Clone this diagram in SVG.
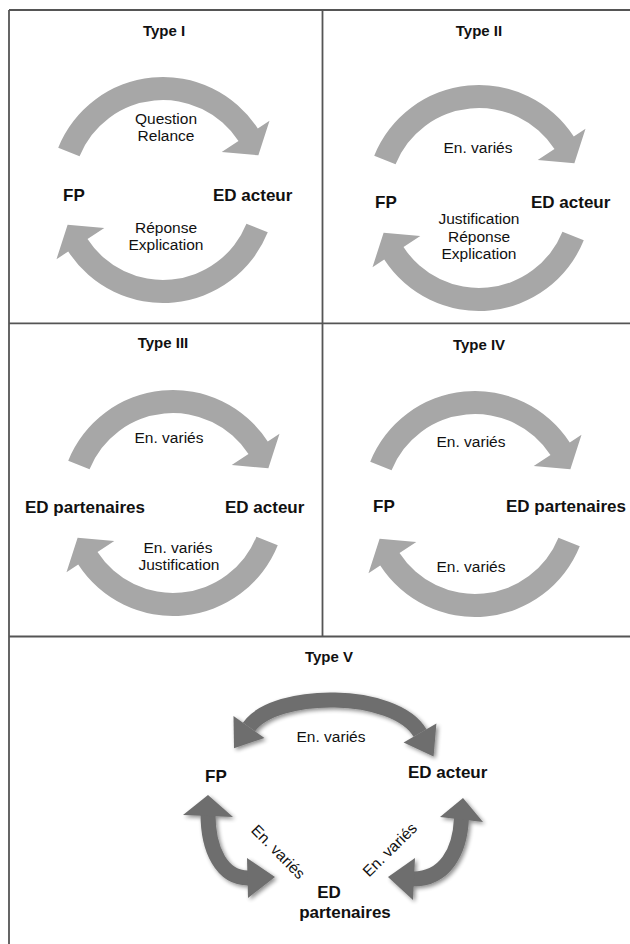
<svg xmlns="http://www.w3.org/2000/svg" width="630" height="944" viewBox="0 0 630 944">
  <defs>
    <style>
      text { font-family: "Liberation Sans", Arial, sans-serif; fill: #111; }
      .title { font-size: 15px; font-weight: bold; text-anchor: middle; }
      .node { font-size: 17px; font-weight: bold; }
      .lbl { font-size: 15.5px; text-anchor: middle; }
      .grid { stroke: #555; stroke-width: 1.8; fill: none; }
      .carrow { fill: #a7a7a7; }
      .dshaft { fill: none; stroke: #6e6e6e; stroke-width: 15; }
      .dhead { fill: #6e6e6e; }
    </style>
    <path id="carc" d="M-104.77,-42.33 A113,113 0 0 1 94.77,-61.54 L106.51,-69.16 L95.38,-34.71 L58.71,-38.12 L75.48,-49.01 A90,90 0 0 0 -83.45,-33.71 Z"/>
    <filter id="shadow" x="-20%" y="-20%" width="140%" height="140%">
      <feGaussianBlur in="SourceAlpha" stdDeviation="2.2"/>
      <feOffset dx="1.5" dy="2" result="b"/>
      <feComponentTransfer><feFuncA type="linear" slope="0.45"/></feComponentTransfer>
      <feMerge><feMergeNode/><feMergeNode in="SourceGraphic"/></feMerge>
    </filter>
  </defs>
  <rect width="630" height="944" fill="#fff"/>

  <g id="grid">
    <line class="grid" x1="9" y1="10" x2="632" y2="10"/>
    <line class="grid" x1="9" y1="10" x2="9" y2="946"/>
    <line class="grid" x1="322.5" y1="10" x2="322.5" y2="636.5"/>
    <line class="grid" x1="9" y1="323.3" x2="632" y2="323.3"/>
    <line class="grid" x1="9" y1="636.5" x2="632" y2="636.5"/>
  </g>

  <g id="connectors">
    <use href="#carc" class="carrow" transform="translate(163,190)"/>
    <use href="#carc" class="carrow" transform="translate(163,190) rotate(180)"/>
    <use href="#carc" class="carrow" transform="translate(479,198)"/>
    <use href="#carc" class="carrow" transform="translate(479,198) rotate(180)"/>
    <use href="#carc" class="carrow" transform="translate(173,503)"/>
    <use href="#carc" class="carrow" transform="translate(173,503) rotate(180)"/>
    <use href="#carc" class="carrow" transform="translate(475,504)"/>
    <use href="#carc" class="carrow" transform="translate(475,504) rotate(180)"/>
    <g filter="url(#shadow)">
      <path class="dshaft" d="M249,727 C275,690 395,690 420,733"/>
      <polygon class="dhead" points="264.5,737.9 234,748.3 233.5,716.1"/>
      <polygon class="dhead" points="436.4,723.4 433.6,756.4 403.6,742.6"/>
      <path class="dshaft" d="M208,814 C208,850 222,878 248,878"/>
      <polygon class="dhead" points="183,815 208,795 233,817"/>
      <polygon class="dhead" points="247,858 275,877 248,898"/>
      <path class="dshaft" d="M461.5,818 C460,852 445,879 413,879"/>
      <polygon class="dhead" points="440,817 463,798 483,822"/>
      <polygon class="dhead" points="415,858 388,877 413,900"/>
    </g>
  </g>

  <g id="type1">
    <text class="title" x="164" y="36">Type I</text>
    <text class="lbl" x="166" y="124">Question</text>
    <text class="lbl" x="166" y="141">Relance</text>
    <text class="node" x="63" y="201">FP</text>
    <text class="node" x="213" y="201">ED acteur</text>
    <text class="lbl" x="166" y="233">Réponse</text>
    <text class="lbl" x="166" y="250">Explication</text>
  </g>

  <g id="type2">
    <text class="title" x="479" y="36">Type II</text>
    <text class="lbl" x="478" y="153">En. variés</text>
    <text class="node" x="375" y="208">FP</text>
    <text class="node" x="531" y="208">ED acteur</text>
    <text class="lbl" x="479" y="224">Justification</text>
    <text class="lbl" x="479" y="242">Réponse</text>
    <text class="lbl" x="479" y="259">Explication</text>
  </g>

  <g id="type3">
    <text class="title" x="163" y="348">Type III</text>
    <text class="lbl" x="169" y="443">En. variés</text>
    <text class="node" x="25" y="513">ED partenaires</text>
    <text class="node" x="225" y="513">ED acteur</text>
    <text class="lbl" x="178" y="553">En. variés</text>
    <text class="lbl" x="179" y="570">Justification</text>
  </g>

  <g id="type4">
    <text class="title" x="479" y="350">Type IV</text>
    <text class="lbl" x="471" y="447">En. variés</text>
    <text class="node" x="373" y="512">FP</text>
    <text class="node" x="506" y="512">ED partenaires</text>
    <text class="lbl" x="471" y="572">En. variés</text>
  </g>

  <g id="type5">
    <text class="title" x="329" y="662">Type V</text>
    <text class="lbl" x="331" y="742">En. variés</text>
    <text class="node" x="205" y="782">FP</text>
    <text class="node" x="408" y="778">ED acteur</text>
    <text class="node" x="329" y="898" text-anchor="middle">ED</text>
    <text class="node" x="345" y="918" text-anchor="middle">partenaires</text>
    <text class="lbl" transform="translate(274.5,855.5) rotate(45.5)">En. variés</text>
    <text class="lbl" transform="translate(393.5,853.5) rotate(-44.5)">En. variés</text>
  </g>
</svg>
